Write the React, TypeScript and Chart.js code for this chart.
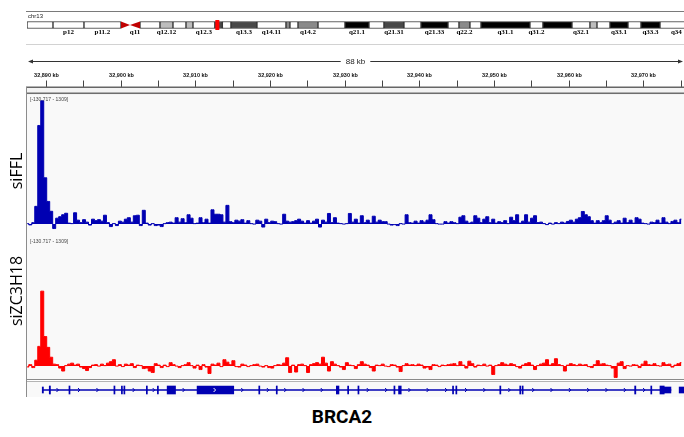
import React, { useEffect, useRef } from 'react';
import { Chart, registerables } from 'chart.js';

Chart.register(...registerables);

const SANS = '"Liberation Sans", Arial, sans-serif';
const SERIF = '"Liberation Serif", "DejaVu Serif", serif';

// ---- view window (kb on chr13) ----
const VIEW_START_KB = 32887.46;
const VIEW_END_KB = 32975.45;
const VIEW_LABEL = '88 kb';
const BIN_START_KB = 32887.5;
const BIN_STEP_KB = 0.4;
const RANGE_MIN = -130.717;
const RANGE_MAX = 1309;

// ---- coverage tracks (one value per 0.4 kb bin) ----
const SIFFL_VALUES = [
  5, -8, 15, 180, 1000, 1250, 470, 230, 130, -45,
  60, 75, 95, 110, 10, 5, 115, 40, 15, 45,
  20, -10, 50, 35, 45, 30, 90, 15, -25, 5,
  -15, 30, 20, 50, 65, 20, 85, 90, -15, 140,
  10, -10, 5, -15, -10, -25, 5, 15, 20, 10,
  65, 20, 55, 15, 95, 60, 5, 10, 65, 15,
  50, 10, 145, 100, 100, 95, 20, 190, 25, 15,
  40, 30, 45, 10, 35, 5, 0, 40, 30, -30,
  50, 15, 30, 25, 5, 0, 100, 30, 20, 25,
  35, 50, 30, 10, 35, 10, 30, 50, -30, 40,
  20, 108, 15, 65, 10, 5, 0, 5, 108, 20,
  50, 10, 85, 15, 40, 10, 80, 20, 40, 25,
  25, 0, -10, -5, -15, 5, 0, 95, 15, 10,
  30, 10, 35, 20, 40, 95, 45, 5, 0, 0,
  25, 10, 25, 15, 5, 70, 85, 30, 10, 20,
  85, 60, 15, 50, 75, 15, 50, 10, 25, 15,
  35, 5, 70, 35, 95, 10, 30, 95, 20, 60,
  85, 15, 20, 5, -5, 10, 0, 15, 5, 20,
  10, 27, 40, 20, 50, 65, 128, 95, 75, 35,
  10, 35, 15, 35, 85, 40, 5, 20, 35, 10,
  60, 15, 40, 10, 65, 50, 10, 5, 0, 20,
  15, 40, 10, 65, 20, 5, 27, 40, 15, 50,
];

const SIZC3H18_VALUES = [
  -10, 15, -15, 60, 200, 760, 300, 190, 90, 20,
  15, -20, -50, 5, 20, 30, 10, 20, -10, -25,
  -45, -15, 10, 15, 0, 20, 5, 30, 45, 65,
  0, 15, -5, 20, 10, 25, -15, 10, 5, -25,
  -20, -50, -65, 25, 10, -15, 10, -5, 35, 15,
  0, -15, 5, 15, 35, 5, -20, 10, -35, 15,
  -10, -75, 20, 10, 30, -5, 65, 40, 15, 55,
  -5, -10, 20, 10, -5, 5, 15, 20, 0, -10,
  5, -15, -20, 5, 15, 10, 30, 85, -65, 10,
  -60, 15, 20, 5, -65, 15, 25, 35, 20, 90,
  30, -50, 45, 20, 5, -10, -35, 35, 10, 5,
  -25, 15, 45, 20, 10, -15, -50, 10, 5, 20,
  0, -5, 15, 10, -10, -55, 5, 25, 10, 15,
  5, 20, 10, -20, -10, -35, 15, 10, -5, 10,
  5, 15, 20, 25, 5, 45, 10, -20, 50, 25,
  -10, 10, 5, 20, 0, 10, -85, 5, 15, 35,
  20, 10, 25, 15, -5, -20, 10, 25, 35, 10,
  -35, 5, 20, 30, 65, 10, 25, 75, 15, 5,
  -50, 10, 25, 15, 5, 20, 10, 15, -5, -15,
  15, 55, 20, 25, 10, 5, -20, -115, 30, 45,
  -25, 5, 0, 15, 10, -15, 20, 50, 15, 10,
  25, 5, 0, 35, 15, 20, -10, 10, 25, 35,
];

// ---- ruler ----
const RULER_TICKS_KB = [
  32890, 32895, 32900, 32905, 32910, 32915, 32920, 32925, 32930,
  32935, 32940, 32945, 32950, 32955, 32960, 32965, 32970, 32975,
];

// ---- ideogram (chr13, Mb) ----
const CHROM_NAME = 'chr13';
const IDEO_MAX_MB = 113.67;
const BAND_NAMES = ['p13', 'p12', 'p11.2', 'p11.1', 'q11', 'q12.11', 'q12.12', 'q12.13', 'q12.2', 'q12.3', 'q13.1', 'q13.2', 'q13.3', 'q14.11', 'q14.12', 'q14.13', 'q14.2', 'q14.3', 'q21.1', 'q21.2', 'q21.31', 'q21.32', 'q21.33', 'q22.1', 'q22.2', 'q22.3', 'q31.1', 'q31.2', 'q31.3', 'q32.1', 'q32.2', 'q32.3', 'q33.1', 'q33.2', 'q33.3', 'q34'];
const BAND_START_MB = [0, 4.5, 9.86, 16.26, 17.82, 19.55, 23.01, 25.26, 27.51, 28.72, 32.5, 33.8, 35.29, 39.79, 44.81, 45.5, 46.89, 50.35, 55.02, 59.17, 61.76, 65.22, 68.17, 72.84, 74.74, 76.64, 78.55, 87.02, 89.27, 94.29, 97.4, 98.62, 100.87, 103.98, 106.23, 109.52];
const BAND_END_MB = [4.5, 9.86, 16.26, 17.82, 19.55, 23.01, 25.26, 27.51, 28.72, 32.5, 33.8, 35.29, 39.79, 44.81, 45.5, 46.89, 50.35, 55.02, 59.17, 61.76, 65.22, 68.17, 72.84, 74.74, 76.64, 78.55, 87.02, 89.27, 94.29, 97.4, 98.62, 100.87, 103.98, 106.23, 109.52, 115.17];
const BAND_STAIN = ['gneg', 'gneg', 'gneg', 'acen', 'acen', 'gneg', 'gpos25', 'gneg', 'gpos25', 'gneg', 'gpos75', 'gneg', 'gpos75', 'gneg', 'gpos50', 'gneg', 'gpos50', 'gneg', 'gpos100', 'gneg', 'gpos75', 'gneg', 'gpos100', 'gneg', 'gpos50', 'gneg', 'gpos100', 'gneg', 'gpos100', 'gneg', 'gpos25', 'gneg', 'gpos100', 'gneg', 'gpos100', 'gneg'];
const BAND_LABELS_SHOWN = ['p12', 'p11.2', 'q11', 'q12.12', 'q12.3', 'q13.3', 'q14.11', 'q14.2', 'q21.1', 'q21.31', 'q21.33', 'q22.2', 'q31.1', 'q31.2', 'q32.1', 'q33.1', 'q33.3', 'q34'];
const STAIN_COLORS: Record<string, string> = {
  gneg: '#ffffff', gpos25: '#bdbdbd', gpos50: '#8a8a8a', gpos75: '#484848', gpos100: '#000000', acen: '#c00000',
};

// ---- gene (BRCA2, kb) ----
const GENE_NAME = 'BRCA2';
const GENE_START_KB = 32889.53;
const GENE_END_KB = 32973.7;
const CDS_START_KB = [32890.44, 32893.08, 32899.10, 32900.10, 32900.43, 32903.44, 32904.92, 32906.23, 32910.24, 32918.50, 32920.84, 32928.89, 32930.40, 32931.78, 32936.60, 32937.22, 32944.45, 32944.89, 32950.78, 32953.45, 32953.77, 32968.84, 32971.00, 32972.23];
const CDS_END_KB = [32890.60, 32893.22, 32899.24, 32900.24, 32900.57, 32903.58, 32905.06, 32907.35, 32915.15, 32918.64, 32920.98, 32929.24, 32930.54, 32931.92, 32936.74, 32937.58, 32944.59, 32945.03, 32950.92, 32953.59, 32953.91, 32969.00, 32971.14, 32972.80];
const UTR_START_KB = [32889.50, 32972.80, 32974.80];
const UTR_END_KB = [32889.66, 32973.70, 32975.45];
const STRAND_ARROWS_KB = [32891.57, 32894.45, 32896.92, 32901.77, 32904.45, 32908.46, 32912.61, 32916.31, 32919.74, 32922.07, 32924.52, 32926.96, 32933.12, 32935.58, 32938.70, 32941.14, 32943.61, 32946.28, 32948.73, 32952.08, 32955.28, 32957.73, 32960.19, 32962.64, 32965.09, 32967.55, 32970.13];

const BLUE = '#0000b2';
const RED = '#ff0000';
const TRACK_BG = '#f9f9f9';
const W = 684;

const fmtKb = (v: number) => String(Math.round(v)).replace(/\B(?=(\d{3})+(?!\d))/g, ',') + ' kb';

const baseOptions = {
  responsive: false,
  animation: false,
  events: [] as any[],
  plugins: { legend: { display: false }, tooltip: { enabled: false } },
};

function leftBorder(ctx: any, x: number, y0: number, y1: number) {
  ctx.save();
  ctx.strokeStyle = '#8c8c8c';
  ctx.lineWidth = 1;
  ctx.beginPath();
  ctx.moveTo(x, y0);
  ctx.lineTo(x, y1);
  ctx.stroke();
  ctx.restore();
}

function ideogramConfig(): any {
  const idx = BAND_NAMES.map((_, i) => i).filter((i) => BAND_STAIN[i] !== 'acen');
  const plugin = {
    id: 'ideoDecor',
    beforeDraw(chart: any) {
      const { ctx } = chart;
      ctx.save();
      ctx.fillStyle = '#ffffff';
      ctx.fillRect(0, 0, W, chart.height);
      ctx.strokeStyle = '#7a7a7a';
      ctx.beginPath(); ctx.moveTo(26, 11.5); ctx.lineTo(W, 11.5); ctx.stroke();
      ctx.strokeStyle = '#d2d2d2';
      ctx.beginPath(); ctx.moveTo(26, 44.5); ctx.lineTo(W, 44.5); ctx.stroke();
      ctx.fillStyle = '#222';
      ctx.font = `6px ${SANS}`;
      ctx.textBaseline = 'middle';
      ctx.fillText(CHROM_NAME, 28, 16.5);
      ctx.restore();
    },
    afterDatasetsDraw(chart: any) {
      const { ctx } = chart;
      const xs = chart.scales.x;
      const cy = chart.scales.y.getPixelForValue(0);
      const h = 3.5;
      ctx.save();
      BAND_NAMES.forEach((name, i) => {
        if (BAND_STAIN[i] !== 'acen') return;
        const x0 = xs.getPixelForValue(BAND_START_MB[i]);
        const x1 = xs.getPixelForValue(BAND_END_MB[i]);
        ctx.fillStyle = STAIN_COLORS.acen;
        ctx.beginPath();
        if (name.startsWith('p')) {
          ctx.moveTo(x0, cy - h); ctx.lineTo(x0, cy + h); ctx.lineTo(x1, cy);
        } else {
          ctx.moveTo(x1, cy - h); ctx.lineTo(x1, cy + h); ctx.lineTo(x0, cy);
        }
        ctx.closePath();
        ctx.fill();
      });
      const mc = xs.getPixelForValue((VIEW_START_KB + VIEW_END_KB) / 2 / 1000);
      ctx.fillStyle = '#ff0000';
      ctx.fillRect(mc - 2, cy - 5, 4, 10);
      ctx.fillStyle = '#000';
      ctx.font = `bold 7px ${SERIF}`;
      ctx.textAlign = 'center';
      ctx.textBaseline = 'middle';
      BAND_NAMES.forEach((name, i) => {
        if (!BAND_LABELS_SHOWN.includes(name)) return;
        const c = xs.getPixelForValue((BAND_START_MB[i] + BAND_END_MB[i]) / 2);
        ctx.fillText(name, c, cy + 7.5);
      });
      ctx.restore();
    },
  };
  return {
    type: 'bar',
    data: {
      datasets: [{
        data: idx.map((i) => ({ x: [BAND_START_MB[i], BAND_END_MB[i]], y: 0 })),
        backgroundColor: idx.map((i) => STAIN_COLORS[BAND_STAIN[i]]),
        borderColor: '#333333',
        borderWidth: 1,
        borderSkipped: false,
        barThickness: 7,
        grouped: false,
      }],
    },
    options: {
      ...baseOptions,
      indexAxis: 'y',
      layout: { padding: { left: 27, right: 0, top: 18, bottom: 13 } },
      scales: {
        x: { type: 'linear', min: 0, max: IDEO_MAX_MB, display: false },
        y: { type: 'linear', min: -1, max: 1, display: false },
      },
    },
    plugins: [plugin],
  };
}

// Ruler: canvas spans page y 45..95; the ruler baseline sits at page y 87 (canvas 42).
function rulerConfig(): any {
  const plugin = {
    id: 'rulerDecor',
    beforeDraw(chart: any) {
      const { ctx, chartArea } = chart;
      ctx.save();
      ctx.fillStyle = '#ffffff';
      ctx.fillRect(0, 0, W, chart.height);
      ctx.fillStyle = '#f3f3f3';
      ctx.fillRect(chartArea.left, chartArea.top, chartArea.right - chartArea.left, chart.height - chartArea.top);
      ctx.restore();
    },
    afterDraw(chart: any) {
      const { ctx, chartArea } = chart;
      const xs = chart.scales.x;
      const base = chartArea.top;
      ctx.save();
      ctx.strokeStyle = '#444';
      ctx.lineWidth = 1;
      ctx.fillStyle = '#111';
      ctx.font = `bold 5.5px ${SANS}`;
      ctx.textAlign = 'center';
      ctx.textBaseline = 'middle';
      RULER_TICKS_KB.forEach((v) => {
        const px = Math.round(xs.getPixelForValue(v)) + 0.5;
        ctx.beginPath();
        ctx.moveTo(px, base - 6.5);
        ctx.lineTo(px, base);
        ctx.stroke();
        if (v % 10 === 0) ctx.fillText(fmtKb(v), px, base - 12);
      });
      ctx.strokeStyle = '#666';
      ctx.lineWidth = 1.5;
      ctx.beginPath(); ctx.moveTo(26, base + 0.25); ctx.lineTo(W, base + 0.25); ctx.stroke();
      const y = 16.5;
      const l = xs.getPixelForValue(VIEW_START_KB) + 1;
      const r = xs.getPixelForValue(VIEW_END_KB) - 1;
      const mid = (l + r) / 2;
      ctx.font = `8px ${SANS}`;
      const tw = ctx.measureText(VIEW_LABEL).width;
      ctx.strokeStyle = '#333';
      ctx.lineWidth = 1;
      ctx.beginPath();
      ctx.moveTo(l + 3, y); ctx.lineTo(mid - tw / 2 - 5, y);
      ctx.moveTo(mid + tw / 2 + 5, y); ctx.lineTo(r - 3, y);
      ctx.stroke();
      ctx.fillStyle = '#333';
      ctx.beginPath(); ctx.moveTo(l, y); ctx.lineTo(l + 5, y - 2); ctx.lineTo(l + 5, y + 2); ctx.closePath(); ctx.fill();
      ctx.beginPath(); ctx.moveTo(r, y); ctx.lineTo(r - 5, y - 2); ctx.lineTo(r - 5, y + 2); ctx.closePath(); ctx.fill();
      ctx.fillStyle = '#222';
      ctx.fillText(VIEW_LABEL, mid, y);
      ctx.strokeStyle = '#6e6e6e';
      ctx.lineWidth = 1.5;
      ctx.beginPath(); ctx.moveTo(26, chart.height - 1.75); ctx.lineTo(W, chart.height - 1.75); ctx.stroke();
      ctx.restore();
      leftBorder(ctx, 26.5, base, chart.height);
    },
  };
  return {
    type: 'line',
    data: { datasets: [] },
    options: {
      ...baseOptions,
      layout: { padding: { left: 27, right: 0, top: 42, bottom: 0 } },
      scales: {
        x: { type: 'linear', min: VIEW_START_KB, max: VIEW_END_KB, display: false },
        y: { display: false, min: 0, max: 1 },
      },
    },
    plugins: [plugin],
  };
}

function trackConfig(values: number[], color: string, name: string, nameY: number): any {
  const plugin = {
    id: 'trackDecor',
    beforeDraw(chart: any) {
      const { ctx, chartArea } = chart;
      ctx.save();
      ctx.fillStyle = '#ffffff';
      ctx.fillRect(0, 0, W, chart.height);
      ctx.fillStyle = TRACK_BG;
      ctx.fillRect(chartArea.left, 0, chartArea.right - chartArea.left, chart.height);
      ctx.restore();
    },
    afterDraw(chart: any) {
      const { ctx, chartArea } = chart;
      leftBorder(ctx, chartArea.left - 0.5, 0, chart.height);
      ctx.save();
      ctx.fillStyle = '#444';
      ctx.font = `5px ${SANS}`;
      ctx.textBaseline = 'middle';
      ctx.fillText(`[${RANGE_MIN} - ${RANGE_MAX}]`, chartArea.left + 3, 5);
      ctx.translate(17, nameY);
      ctx.rotate(-Math.PI / 2);
      ctx.font = `16px "Open Sans", ${SANS}`;
      ctx.fillStyle = '#000';
      ctx.textAlign = 'center';
      ctx.textBaseline = 'middle';
      ctx.fillText(name, 0, 0);
      ctx.restore();
    },
  };
  return {
    type: 'line',
    data: {
      datasets: [{
        data: values.map((v, i) => ({ x: BIN_START_KB + i * BIN_STEP_KB, y: v })),
        borderColor: color,
        backgroundColor: color,
        borderWidth: 1,
        pointRadius: 0,
        stepped: 'middle',
        fill: 'origin',
      }],
    },
    options: {
      ...baseOptions,
      layout: { padding: { left: 27, right: 0, top: 0, bottom: 0 } },
      scales: {
        x: { type: 'linear', min: VIEW_START_KB, max: VIEW_END_KB, display: false },
        y: { type: 'linear', min: RANGE_MIN, max: RANGE_MAX, display: false },
      },
    },
    plugins: [plugin],
  };
}

function geneConfig(): any {
  const inside = (kb: number) => CDS_START_KB.some((s, i) => kb >= s && kb <= CDS_END_KB[i]);
  const plugin = {
    id: 'geneDecor',
    beforeDraw(chart: any) {
      const { ctx, chartArea } = chart;
      ctx.save();
      ctx.fillStyle = '#ffffff';
      ctx.fillRect(0, 0, W, chart.height);
      ctx.fillStyle = TRACK_BG;
      ctx.fillRect(chartArea.left, 3, chartArea.right - chartArea.left, chart.height - 5);
      ctx.strokeStyle = '#8a8a8a';
      ctx.beginPath(); ctx.moveTo(26, 0.5); ctx.lineTo(W, 0.5); ctx.stroke();
      ctx.strokeStyle = '#b4b4b4';
      ctx.beginPath(); ctx.moveTo(26, 2.5); ctx.lineTo(W, 2.5); ctx.stroke();
      ctx.restore();
      leftBorder(ctx, chartArea.left - 0.5, 0, chart.height - 2);
    },
    afterDatasetsDraw(chart: any) {
      const { ctx } = chart;
      const xs = chart.scales.x;
      const cy = chart.scales.y.getPixelForValue(0);
      ctx.save();
      ctx.lineWidth = 1;
      STRAND_ARROWS_KB.forEach((kb) => {
        const px = xs.getPixelForValue(kb);
        ctx.strokeStyle = inside(kb) ? '#ffffff' : BLUE;
        ctx.beginPath();
        ctx.moveTo(px - 1.2, cy - 2);
        ctx.lineTo(px + 0.8, cy);
        ctx.lineTo(px - 1.2, cy + 2);
        ctx.stroke();
      });
      ctx.restore();
    },
  };
  return {
    type: 'bar',
    data: {
      datasets: [
        {
          data: CDS_START_KB.map((s, i) => ({ x: [s, CDS_END_KB[i]], y: 0 })),
          backgroundColor: BLUE, barThickness: 8, grouped: false, borderWidth: 0,
        },
        {
          data: UTR_START_KB.map((s, i) => ({ x: [s, UTR_END_KB[i]], y: 0 })),
          backgroundColor: BLUE, barThickness: 6, grouped: false, borderWidth: 0,
        },
        {
          data: [{ x: [GENE_START_KB, GENE_END_KB], y: 0 }],
          backgroundColor: BLUE, barThickness: 1, grouped: false, borderWidth: 0,
        },
      ],
    },
    options: {
      ...baseOptions,
      indexAxis: 'y',
      layout: { padding: { left: 27, right: 0, top: 3, bottom: 1 } },
      scales: {
        x: { type: 'linear', min: VIEW_START_KB, max: VIEW_END_KB, display: false },
        y: { type: 'linear', min: -1, max: 1, display: false },
      },
    },
    plugins: [plugin],
  };
}

function ChartCanvas({ top, height, make }: { top: number; height: number; make: () => any }) {
  const ref = useRef<HTMLCanvasElement>(null);
  useEffect(() => {
    const chart = new Chart(ref.current as HTMLCanvasElement, make());
    return () => chart.destroy();
  }, []);
  return (
    <canvas
      ref={ref}
      width={W}
      height={height}
      style={{ position: 'absolute', left: 0, top, width: W, height, display: 'block' }}
    />
  );
}

export default function App() {
  return (
    <div style={{ position: 'fixed', left: 0, top: 0, width: W, height: 437, background: '#ffffff', overflow: 'hidden' }}>
      <ChartCanvas top={0} height={45} make={ideogramConfig} />
      <ChartCanvas top={45} height={50} make={rulerConfig} />
      <ChartCanvas top={95} height={142} make={() => trackConfig(SIFFL_VALUES, BLUE, 'siFFL', 76)} />
      <ChartCanvas top={237} height={142} make={() => trackConfig(SIZC3H18_VALUES, RED, 'siZC3H18', 54)} />
      <ChartCanvas top={379} height={20} make={geneConfig} />
      <div
        style={{
          position: 'absolute', left: 242, top: 405, width: 200, textAlign: 'center',
          font: `bold 19px Roboto, ${SANS}`, lineHeight: 'normal', color: '#000',
        }}
      >
        {GENE_NAME}
      </div>
    </div>
  );
}
